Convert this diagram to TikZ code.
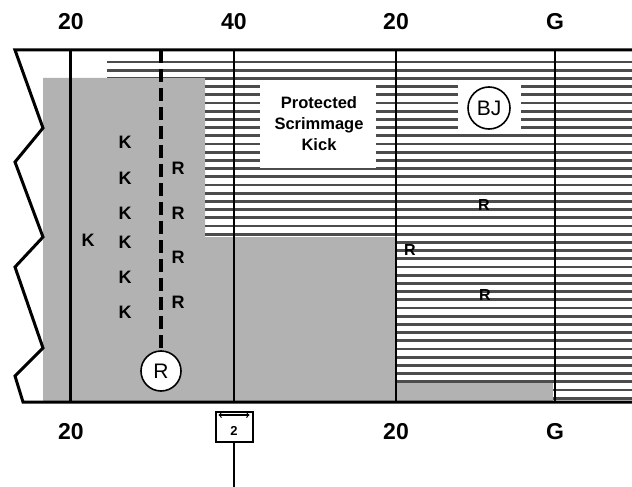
\documentclass[tikz,border=0pt]{standalone}
\usepackage{fontspec}
\setmainfont{Liberation Sans}
\begin{document}
\begin{tikzpicture}[x=1pt,y=-1pt,
  yard/.style={font=\fontsize{23}{23}\selectfont\bfseries,inner sep=0pt},
  player/.style={font=\fontsize{18}{18}\selectfont\bfseries,inner sep=0pt},
  hatch/.style={line width=2.8pt,black!70},
  scrimline/.style={line width=4pt,dash pattern=on 13pt off 6pt},
  official/.style={draw,circle,line width=1.6pt,fill=white,minimum size=40pt,inner sep=0pt,font=\fontsize{21}{21}\selectfont}]
\useasboundingbox (0,0) rectangle (632,487);
\fill[black!30] (43,78) -- (205,78) -- (205,237) -- (396,237) -- (396,402) -- (43,402) -- cycle;
\begin{scope}
\clip (107,50) -- (632,50) -- (632,402) -- (396,402) -- (396,237) -- (205,237) -- (205,78) -- (107,78) -- cycle;
\foreach \y in {62,70.2,...,400}
  \draw[hatch] (0,\y) -- (632,\y);
\end{scope}
\fill[black!30] (396,383) rectangle (553,402);
\fill[white] (260,80) rectangle (376,168);
\fill[white] (458,80) rectangle (521,134);
\node[align=center,font=\fontsize{16.5}{21}\selectfont\bfseries] (kick) at (319,124) {Protected\\Scrimmage\\Kick};
\draw[line width=3pt] (632,50) -- (15,50) -- (43,128) -- (15,162) -- (43,237) -- (15,267) -- (43,348) -- (15,376) -- (23,402) -- (632,402);
\draw[line width=3pt] (70,50) -- (70,402);
\foreach \x in {234,396,555}
  \draw[line width=2pt] (\x,50) -- (\x,402);
\node[yard] (top20a) at (71,22) {20};
\node[yard] (top40) at (234,22) {40};
\node[yard] (top20b) at (396,22) {20};
\node[yard] (topG) at (555,22) {G};
\node[yard] (bot20a) at (71,432) {20};
\node[yard] (bot20b) at (396,432) {20};
\node[yard] (botG) at (555,432) {G};
\node[official] (deep) at (161,371) {R};
\coordinate (scrimtop) at (161,50);
\draw[scrimline] (scrimtop) -- (deep.north);
\node[official,minimum size=42pt] (bj) at (489,108) {BJ};
\foreach \y [count=\i] in {142,178,213,242,277,312}
  \node[player] (k\i) at (125,\y) {K};
\node[player] (k7) at (88,240) {K};
\foreach \y [count=\i] in {168,213,257,302}
  \node[player] (r\i) at (178,\y) {R};
\node[player,font=\fontsize{16}{16}\selectfont\bfseries] (r5) at (484,205) {R};
\node[player,font=\fontsize{16}{16}\selectfont\bfseries] (r6) at (410,250) {R};
\node[player,font=\fontsize{16}{16}\selectfont\bfseries] (r7) at (485,295) {R};
\node[draw,line width=2pt,minimum width=37pt,minimum height=30pt,inner sep=0pt] (chain) at (234,427) {};
\node[font=\fontsize{13}{13}\selectfont\bfseries] (down) at (234,431) {2};
\draw[<->,line width=1.2pt] ([xshift=4pt,yshift=-4pt]chain.north west) -- ([xshift=-4pt,yshift=-4pt]chain.north east);
\coordinate (pole) at (234,487);
\draw[line width=2.2pt] (chain.south) -- (pole);
\end{tikzpicture}
\end{document}
